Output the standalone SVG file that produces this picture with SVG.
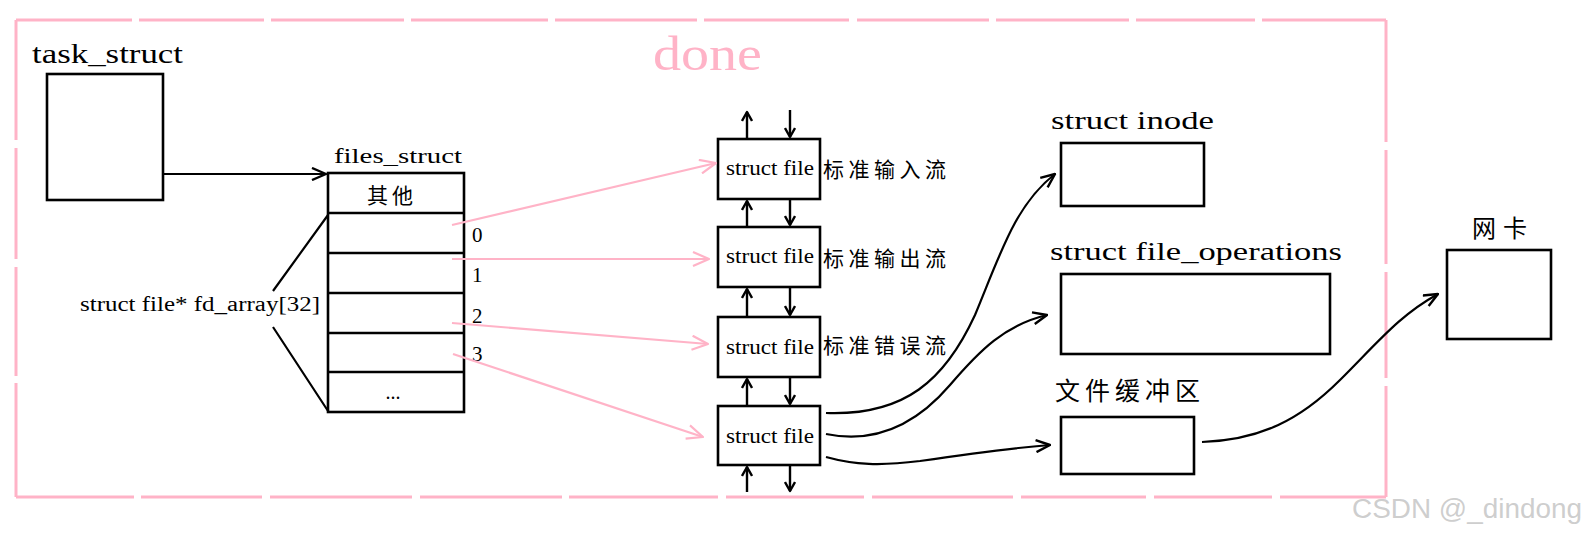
<svg xmlns="http://www.w3.org/2000/svg" width="1588" height="536" viewBox="0 0 1588 536">
<style>
.bx{fill:#fff;stroke:#000;stroke-width:2.6}
.lat{font-family:"Liberation Serif","DejaVu Serif",serif;fill:#000}
.cjk{font-family:"Noto Sans CJK SC","Noto Sans CJK JP",sans-serif;fill:#000}
.pk{stroke:#ffb3c7;stroke-width:3;fill:none}
.pa{stroke:#ffb3c7;stroke-width:2.2;fill:none;marker-end:url(#mp)}
.ba{stroke:#000;stroke-width:2.2;fill:none}
</style>
<defs>
<marker id="mb" viewBox="0 0 16 14" refX="15" refY="7" markerWidth="16" markerHeight="14" orient="auto" markerUnits="userSpaceOnUse"><path d="M1,1 L15,7 L1,13" fill="none" stroke="#000" stroke-width="2.4" stroke-linejoin="round"/></marker>
<marker id="ms" viewBox="0 0 12 12" refX="10" refY="6" markerWidth="12" markerHeight="12" orient="auto" markerUnits="userSpaceOnUse"><path d="M1,1 L10,6 L1,11" fill="none" stroke="#000" stroke-width="2.4" stroke-linejoin="round"/></marker>
<marker id="mp" viewBox="0 0 18 16" refX="17" refY="8" markerWidth="18" markerHeight="16" orient="auto" markerUnits="userSpaceOnUse"><path d="M1,1 L17,8 L1,15" fill="none" stroke="#ffb3c7" stroke-width="2.2" stroke-linejoin="round"/></marker>
</defs>
<rect width="1588" height="536" fill="#fff"/>

<g id="frame">
<path class="pk" d="M16,20 H132 M139,20 H264 M271,20 H404 M411,20 H548 M555,20 H697 M704,20 H849 M857,20 H989 M996,20 H1129 M1136,20 H1255 M1262,20 H1386"/>
<path class="pk" d="M16,497 H134 M141,497 H262 M270,497 H412 M420,497 H562 M569,497 H718 M726,497 H864 M872,497 H1013 M1021,497 H1146 M1154,497 H1272 M1280,497 H1386"/>
<path class="pk" d="M16,20 V140 M16,148 V259 M16,267 V376 M16,383 V497"/>
<path class="pk" d="M1386,20 V142 M1386,150 V264 M1386,272 V378 M1386,386 V497"/>
<text x="653" y="70" font-family="Liberation Serif,serif" font-size="48" fill="#ffb3c7" textLength="109" lengthAdjust="spacingAndGlyphs">done</text>
</g>

<g id="task_struct">
<text class="lat" x="32" y="63" font-size="27" textLength="151" lengthAdjust="spacingAndGlyphs">task_struct</text>
<rect class="bx" x="47" y="74" width="116" height="126"/>
</g>

<g id="files_struct">
<text class="lat" x="334" y="163" font-size="22" textLength="128" lengthAdjust="spacingAndGlyphs">files_struct</text>
<rect class="bx" x="328" y="173" width="136" height="239"/>
<path d="M328,213 H464 M328,253 H464 M328,293 H464 M328,333 H464 M328,372 H464" stroke="#000" stroke-width="2.6"/>
<text class="cjk" x="392" y="203" font-size="21" text-anchor="middle" letter-spacing="4">其他</text>
<text class="lat" x="393" y="399" font-size="20" text-anchor="middle">...</text>
<text class="lat" x="472" y="242" font-size="21">0</text>
<text class="lat" x="472" y="282" font-size="21">1</text>
<text class="lat" x="472" y="323" font-size="21">2</text>
<text class="lat" x="472" y="361" font-size="21">3</text>
</g>

<g id="fd_array">
<text class="lat" x="80" y="311" font-size="20" textLength="240" lengthAdjust="spacingAndGlyphs">struct file* fd_array[32]</text>
<path d="M273,291 L328,215 M273,327 L328,411" stroke="#000" stroke-width="2.2" fill="none"/>
</g>

<g id="file0">
<rect class="bx" x="718" y="139" width="102" height="60"/>
<text class="lat" x="726" y="175" font-size="20" textLength="88" lengthAdjust="spacingAndGlyphs">struct file</text>
<text class="cjk" x="823" y="177" font-size="21" letter-spacing="4.5">标准输入流</text>
</g>
<g id="file1">
<rect class="bx" x="718" y="227" width="102" height="60"/>
<text class="lat" x="726" y="263" font-size="20" textLength="88" lengthAdjust="spacingAndGlyphs">struct file</text>
<text class="cjk" x="823" y="266" font-size="21" letter-spacing="4.5">标准输出流</text>
</g>
<g id="file2">
<rect class="bx" x="718" y="317" width="102" height="60"/>
<text class="lat" x="726" y="354" font-size="20" textLength="88" lengthAdjust="spacingAndGlyphs">struct file</text>
<text class="cjk" x="823" y="353" font-size="21" letter-spacing="4.5">标准错误流</text>
</g>
<g id="file3">
<rect class="bx" x="718" y="406" width="102" height="59"/>
<text class="lat" x="726" y="443" font-size="20" textLength="88" lengthAdjust="spacingAndGlyphs">struct file</text>
</g>

<g id="inode">
<text class="lat" x="1051" y="129" font-size="26" textLength="163" lengthAdjust="spacingAndGlyphs">struct inode</text>
<rect class="bx" x="1061" y="143" width="143" height="63"/>
</g>
<g id="file_operations">
<text class="lat" x="1050" y="260" font-size="26" textLength="292" lengthAdjust="spacingAndGlyphs">struct file_operations</text>
<rect class="bx" x="1061" y="274" width="269" height="80"/>
</g>
<g id="buffer">
<text class="cjk" x="1055" y="400" font-size="25" letter-spacing="5">文件缓冲区</text>
<rect class="bx" x="1061" y="417" width="133" height="57"/>
</g>
<g id="nic">
<text class="cjk" x="1472" y="237" font-size="24" letter-spacing="7">网卡</text>
<rect class="bx" x="1447" y="250" width="104" height="89"/>
</g>

<g id="connectors">
<path class="ba" d="M163,174 H326" marker-end="url(#mb)"/>
<path class="pa" d="M452,225 L716,163"/>
<path class="pa" d="M452,259 L709,259"/>
<path class="pa" d="M452,323 L708,344"/>
<path class="pa" d="M453,354 L703,437"/>
<g marker-end="url(#ms)" stroke="#000" stroke-width="2.4" fill="none">
<path d="M747,139 V112"/><path d="M790,110 V137"/>
<path d="M747,227 V201"/><path d="M790,199 V225"/>
<path d="M747,317 V289"/><path d="M790,287 V315"/>
<path d="M747,406 V379"/><path d="M790,377 V404"/>
<path d="M747,492 V467"/><path d="M790,465 V491"/>
</g>
<path class="ba" d="M826,413 C905,416 945,380 975,315 C1000,255 1015,205 1055,174" marker-end="url(#mb)"/>
<path class="ba" d="M826,434 C880,445 920,420 950,385 C980,350 1005,325 1047,315" marker-end="url(#mb)"/>
<path class="ba" d="M826,457 C855,465 880,466 920,461 C960,455 1000,449 1050,445" marker-end="url(#mb)"/>
<path class="ba" d="M1202,442 C1260,440 1300,420 1340,380 C1380,340 1400,315 1438,294" marker-end="url(#mb)"/>
</g>

<text x="1352" y="518" font-family="Liberation Sans,Arial,sans-serif" font-size="27" fill="#c8c8c8" fill-opacity="0.9" textLength="230" lengthAdjust="spacingAndGlyphs">CSDN @_dindong</text>
</svg>
